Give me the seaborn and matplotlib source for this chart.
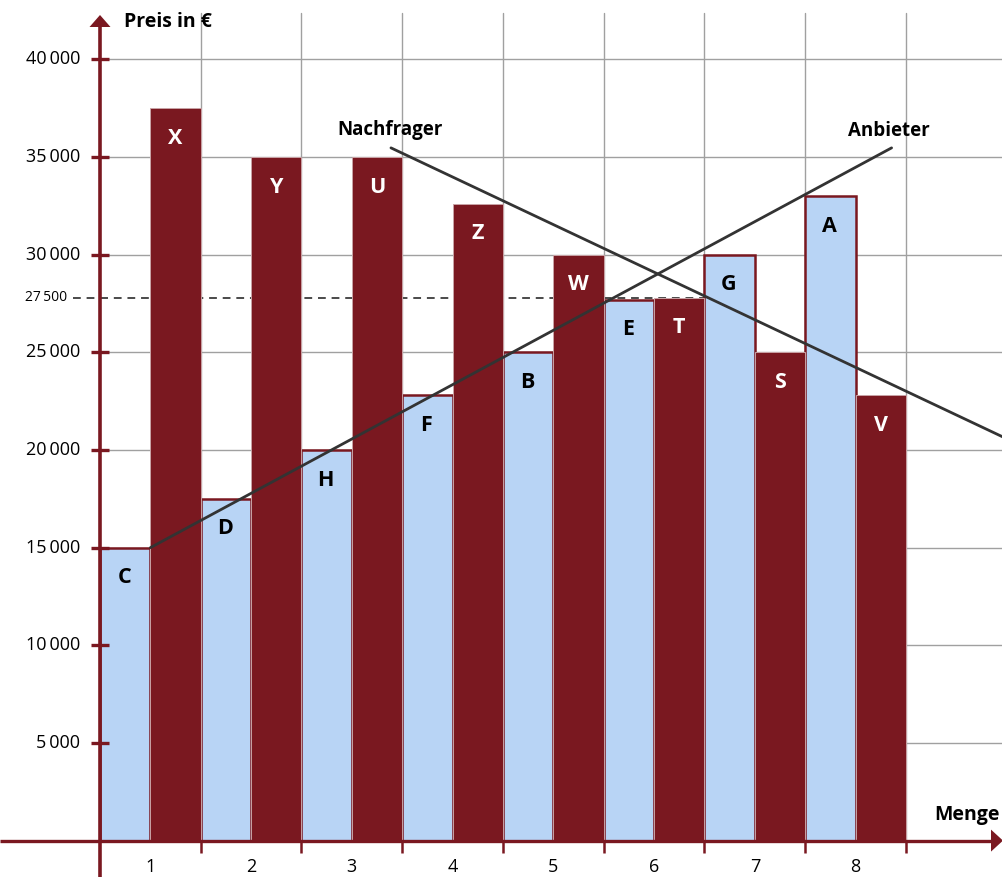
import matplotlib
matplotlib.use("Agg")
import matplotlib.pyplot as plt
import seaborn as sns
import pandas as pd

# ---------------- data ----------------
quantities = [1, 2, 3, 4, 5, 6, 7, 8]
supply_labels = ["C", "D", "H", "F", "B", "E", "G", "A"]
supply_prices = [15000, 17500, 20000, 22800, 25000, 27700, 30000, 33000]
demand_labels = ["X", "Y", "U", "Z", "W", "T", "S", "V"]
demand_prices = [37500, 35000, 35000, 32600, 30000, 27800, 25000, 22800]

y_ticks = [5000, 10000, 15000, 20000, 25000, 30000, 35000, 40000]
y_tick_labels = ["5\u2009000", "10\u2009000", "15\u2009000", "20\u2009000",
                 "25\u2009000", "30\u2009000", "35\u2009000", "40\u2009000"]
x_tick_labels = ["1", "2", "3", "4", "5", "6", "7", "8"]

eq_level = 27800          # height at which the dashed line is drawn
eq_label = "27\u2009500"

anbieter_x = [0.5, 7.857]
anbieter_y = [15000, 35470]
nachfrager_x = [2.888, 8.963]
nachfrager_y = [35470, 20665]

# ---------------- style ----------------
DARK = "#7a1820"
BLUE = "#b8d4f5"
GRID = "#a0a0a0"
LINE = "#333333"

sns.set_theme(style="white")
plt.rcParams["font.family"] = ["Open Sans", "DejaVu Sans"]

W, H = 1003, 877
fig = plt.figure(figsize=(W / 100, H / 100), dpi=100)
ax = fig.add_axes([0, 0, 1, 1])

# pixel helpers (for decoration sizes only)
X0, UX = 100.0, 100.75
Y0, UY = 840.6, 0.01953
def dx(px):
    return px / UX
def dy(px):
    return px / UY

xmin, xmax = -X0 / UX, (W - X0) / UX
ymin, ymax = (Y0 - H) / UY, Y0 / UY

# ---------------- grid ----------------
grid_top = (Y0 - 13) / UY
for q in quantities:
    ax.plot([q, q], [0, grid_top], color=GRID, lw=1.0, zorder=1)
for t in y_ticks:
    ax.plot([0, xmax], [t, t], color=GRID, lw=1.0, zorder=1)

# dashed equilibrium price line (behind bars)
ax.plot([-0.27, 6.0], [eq_level, eq_level], color="#4a4a4a", lw=1.4,
        dashes=(4, 3), zorder=1.5)

# ---------------- bars ----------------
supply_df = pd.DataFrame({"pos": [q - 1 + 0.25 for q in quantities],
                          "price": supply_prices})
demand_df = pd.DataFrame({"pos": [q - 1 + 0.75 for q in quantities],
                          "price": demand_prices})

sns.barplot(data=supply_df, x="pos", y="price", native_scale=True, orient="x",
            width=0.5, color=BLUE, saturation=1, edgecolor=DARK, linewidth=1.8,
            errorbar=None, ax=ax, zorder=2)
sns.barplot(data=demand_df, x="pos", y="price", native_scale=True, orient="x",
            width=0.5, color=DARK, saturation=1, edgecolor="#c9a3a6", linewidth=0.7,
            errorbar=None, ax=ax, zorder=2.1)

# bar letters
for p, v, lab in zip(supply_df["pos"], supply_prices, supply_labels):
    ax.text(p - 0.01, v - dy(30), lab, ha="center", va="center", fontsize=15.5,
            fontweight="bold", color="black", zorder=6)
for p, v, lab in zip(demand_df["pos"], demand_prices, demand_labels):
    ax.text(p, v - dy(30), lab, ha="center", va="center", fontsize=15.5,
            fontweight="bold", color="white", zorder=6)

# ---------------- supply / demand lines ----------------
sns.lineplot(x=anbieter_x, y=anbieter_y, color=LINE, lw=2.0, ax=ax, zorder=5)
sns.lineplot(x=nachfrager_x, y=nachfrager_y, color=LINE, lw=2.0, ax=ax, zorder=5)

ax.text(7.83, (Y0 - 131) / UY, "Anbieter", ha="center", va="center",
        fontsize=13.5, fontweight="bold", color="black", zorder=6)
ax.text(2.883, (Y0 - 130) / UY, "Nachfrager", ha="center", va="center",
        fontsize=13.5, fontweight="bold", color="black", zorder=6)

# ---------------- axes with arrows ----------------
y_tip = (Y0 - 15) / UY
x_tip = xmax
ax.plot([0, 0], [ymin, y_tip - dy(8)], color=DARK, lw=2.6, zorder=7,
        solid_capstyle="butt")
ax.fill([0, -dx(10.5), dx(10.5)], [y_tip, y_tip - dy(12), y_tip - dy(12)],
        color=DARK, lw=0, zorder=7)
ax.plot([xmin, x_tip - dx(8)], [0, 0], color=DARK, lw=2.4, zorder=7,
        solid_capstyle="butt")
ax.fill([x_tip, x_tip - dx(12), x_tip - dx(12)], [0, dy(11), -dy(11)],
        color=DARK, lw=0, zorder=7)

# y ticks and labels
for t, lab in zip(y_ticks, y_tick_labels):
    ax.plot([-dx(8.5), dx(9.5)], [t, t], color=DARK, lw=2.4, zorder=7,
            solid_capstyle="butt")
    ax.text(-dx(19.5), t, lab, ha="right", va="center", fontsize=13,
            color="black", zorder=7)
ax.text(-dx(33), eq_level, eq_label, ha="right", va="center",
        fontsize=10, color="black", zorder=7)

# x ticks and labels
for q, lab in zip(quantities, x_tick_labels):
    ax.plot([q, q], [0, -dy(12)], color=DARK, lw=1.8, zorder=7,
            solid_capstyle="butt")
    ax.text(q - 0.5, -dy(26), lab, ha="center", va="center", fontsize=13,
            color="black", zorder=7)

# axis titles
ax.text(dx(24), (Y0 - 22) / UY, "Preis in €", ha="left", va="center",
        fontsize=14, fontweight="bold", color="black", zorder=7)
ax.text((934 - X0) / UX, dy(26), "Menge", ha="left", va="center",
        fontsize=14, fontweight="bold", color="black", zorder=7)

ax.set_xlim(xmin, xmax)
ax.set_ylim(ymin, ymax)
ax.set_xlabel("")
ax.set_ylabel("")
ax.set_xticks([])
ax.set_yticks([])
for s in ax.spines.values():
    s.set_visible(False)
ax.grid(False)

fig.savefig("out.png", dpi=100)
